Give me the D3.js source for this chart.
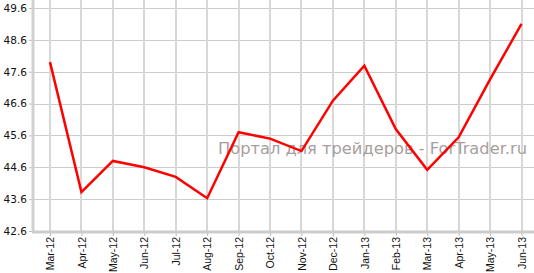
<!DOCTYPE html>
<html>
<head>
<meta charset="utf-8">
<script src="https://cdn.jsdelivr.net/npm/d3@7"></script>
<style>
  body { margin: 0; background: #fff; }
  svg { display: block; }
</style>
</head>
<body>
<div id="chart"></div>
<script>
// monthly values
var months = ["Mar-12", "Apr-12", "May-12", "Jun-12", "Jul-12", "Aug-12", "Sep-12", "Oct-12",
              "Nov-12", "Dec-12", "Jan-13", "Feb-13", "Mar-13", "Apr-13", "May-13", "Jun-13"];
var values = [47.9, 43.82, 44.8, 44.6, 44.3, 43.63, 45.7, 45.5,
              45.11, 46.69, 47.79, 45.8, 44.52, 45.54, 47.36, 49.1];
var yTicks = [42.6, 43.6, 44.6, 45.6, 46.6, 47.6, 48.6, 49.6];
var watermark = "Портал для трейдеров - ForTrader.ru";

var svgWidth = 534, svgHeight = 273;
var margin = { top: 8, right: 0, bottom: 42, left: 33 };
var height = svgHeight - margin.top - margin.bottom;
var width = svgWidth - margin.left - margin.right;

var svg = d3.select("#chart").append("svg")
  .attr("width", svgWidth)
  .attr("height", svgHeight);

var chartGroup = svg.append("g")
  .attr("transform", `translate(${margin.left}, ${margin.top})`);

var xScale = d3.scalePoint()
  .domain(months)
  .range([17, 488.5]);

var yScale = d3.scaleLinear()
  .domain([42.6, 49.6])
  .range([height, 0]);

// horizontal grid
chartGroup.append("g")
  .selectAll("line")
  .data(yTicks)
  .enter()
  .append("line")
  .attr("x1", 0)
  .attr("x2", width)
  .attr("y1", d => Math.round(yScale(d)) + 0.5)
  .attr("y2", d => Math.round(yScale(d)) + 0.5)
  .attr("stroke", "#cccccc")
  .attr("stroke-width", 1);

// vertical grid
chartGroup.append("g")
  .selectAll("line")
  .data(months)
  .enter()
  .append("line")
  .attr("x1", d => Math.round(xScale(d)))
  .attr("x2", d => Math.round(xScale(d)))
  .attr("y1", 0 - margin.top)
  .attr("y2", height)
  .attr("stroke", "#d8d8d8")
  .attr("stroke-width", 2);

// watermark
chartGroup.append("text")
  .attr("x", 185)
  .attr("y", 146)
  .attr("fill", "#a89e9e")
  .style("font-family", "DejaVu Sans, Verdana, sans-serif")
  .style("font-size", "15px")
  .attr("textLength", 309)
  .attr("lengthAdjust", "spacingAndGlyphs")
  .text(watermark);

// y axis
var leftAxis = d3.axisLeft(yScale)
  .tickValues(yTicks)
  .tickFormat(d3.format(".1f"))
  .tickSize(4)
  .tickPadding(2);

var yAxis = chartGroup.append("g").call(leftAxis);
yAxis.select(".domain").remove();
yAxis.selectAll(".tick line").attr("stroke", "#bbbbbb");
yAxis.selectAll("text")
  .attr("fill", "#111")
  .style("font-family", "DejaVu Sans, Verdana, sans-serif")
  .style("font-size", "10.5px");

chartGroup.append("line")
  .attr("x1", 0).attr("x2", 0)
  .attr("y1", 0 - margin.top).attr("y2", height + 1)
  .attr("stroke", "#d0d0d0")
  .attr("stroke-width", 3);

// x axis
var bottomAxis = d3.axisBottom(xScale)
  .tickSize(5)
  .tickPadding(3);

var xAxis = chartGroup.append("g")
  .attr("transform", `translate(0, ${height})`)
  .call(bottomAxis);
xAxis.select(".domain").remove();
xAxis.selectAll(".tick line").attr("stroke", "#bbbbbb");
xAxis.selectAll("text")
  .attr("transform", "rotate(-90)")
  .attr("text-anchor", "end")
  .attr("x", -6)
  .attr("y", 0)
  .attr("dy", "0.35em")
  .attr("fill", "#111")
  .style("font-family", "Liberation Sans, Arial, sans-serif")
  .style("font-size", "10.5px");

chartGroup.append("line")
  .attr("x1", -1).attr("x2", width)
  .attr("y1", height + 1).attr("y2", height + 1)
  .attr("stroke", "#cccccc")
  .attr("stroke-width", 3);

// the series
var line = d3.line()
  .x((d, i) => xScale(months[i]))
  .y(d => yScale(d));

chartGroup.append("path")
  .datum(values)
  .attr("d", line)
  .attr("fill", "none")
  .attr("stroke", "#ff0000")
  .attr("stroke-width", 2.5)
  .attr("stroke-linejoin", "miter");
</script>
</body>
</html>
